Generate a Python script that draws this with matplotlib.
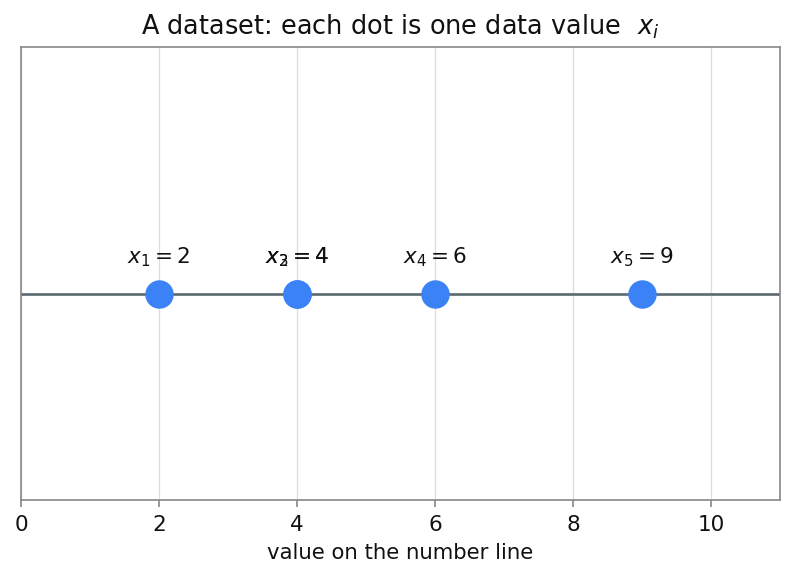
import numpy as np
import matplotlib.pyplot as plt

# data values on the number line
values = [2, 4, 4, 6, 9]
labels = [r"$x_1 = 2$", r"$x_2 = 4$", r"$x_3 = 4$", r"$x_4 = 6$", r"$x_5 = 9$"]
xticks = [0, 2, 4, 6, 8, 10]

fig = plt.figure(figsize=(794 / 150, 575 / 150), dpi=150)
ax = fig.add_axes([21 / 794, 1 - 500 / 575, (780 - 21) / 794, (500 - 47) / 575])

# number line
ax.axhline(0, color="#5f6b73", linewidth=1.3, zorder=1)

# dots and labels
ax.scatter(values, np.zeros(len(values)), s=160, color="#3b82f6", zorder=3)
for v, lab in zip(values, labels):
    ax.text(v, 0.18, lab, ha="center", va="center", fontsize=10.3, color="#111111")

# axes settings
ax.set_xlim(0, 11)
ax.set_ylim(-1, 1.2)
ax.set_xticks(xticks)
ax.set_yticks([])
ax.grid(axis="x", color="#dddddd", linewidth=0.6)
ax.set_axisbelow(True)
for s in ax.spines.values():
    s.set_color("#888888")
ax.tick_params(axis="x", colors="#888888", labelcolor="#111111", labelsize=10.3)
ax.set_xlabel("value on the number line", fontsize=10.2, color="#111111")
ax.set_title(r"A dataset: each dot is one data value  $x_i$", fontsize=12.3, color="#111111")

fig.savefig("out.png", dpi=150)
